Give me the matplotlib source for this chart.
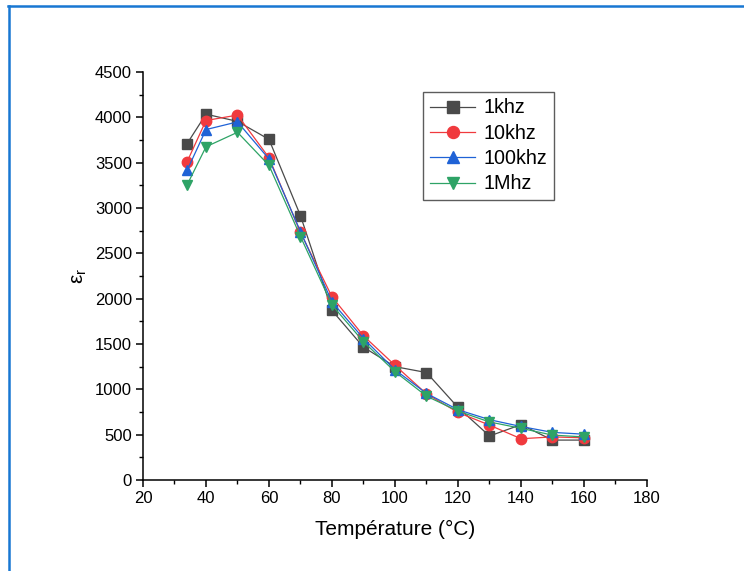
import matplotlib
matplotlib.use('Agg')
import matplotlib.pyplot as plt
from matplotlib.lines import Line2D
from matplotlib.ticker import MultipleLocator

plt.rcParams['font.family'] = ['Liberation Sans', 'DejaVu Sans']
plt.rcParams['mathtext.fontset'] = 'custom'
plt.rcParams['mathtext.rm'] = 'Liberation Sans'

# températures de mesure (°C)
temp = [34, 40, 50, 60, 70, 80, 90, 100, 110, 120, 130, 140, 150, 160]

# permittivité relative pour chaque fréquence
eps_1k = [3710, 4035, 3955, 3757, 2915, 1870, 1465, 1250, 1185, 800, 485, 610, 440, 440]
eps_10k = [3510, 3965, 4025, 3555, 2730, 2020, 1590, 1265, 950, 745, 605, 455, 475, 465]
eps_100k = [3415, 3865, 3950, 3540, 2740, 1965, 1560, 1215, 955, 775, 665, 590, 525, 505]
eps_1M = [3255, 3675, 3835, 3470, 2685, 1930, 1525, 1195, 925, 760, 640, 570, 495, 475]

labels = ['1khz', '10khz', '100khz', '1Mhz']
colors = ['#4a4a4a', '#f03a3e', '#1f62d6', '#2ea366']
markers = ['s', 'o', '^', 'v']

fig = plt.figure(figsize=(7.44, 5.71), dpi=100)
ax = fig.add_axes([0.1922, 0.1594, 0.6774, 0.7145])

for y, lab, c, m in zip([eps_1k, eps_10k, eps_100k, eps_1M], labels, colors, markers):
    ax.plot(temp, y, color=c, marker=m, markersize=7.5, linewidth=0.9, label=lab)

ax.set_xlim(20, 180)
ax.set_ylim(0, 4500)
ax.xaxis.set_major_locator(MultipleLocator(20))
ax.xaxis.set_minor_locator(MultipleLocator(10))
ax.yaxis.set_major_locator(MultipleLocator(500))
ax.yaxis.set_minor_locator(MultipleLocator(250))

for s in ['top', 'right']:
    ax.spines[s].set_visible(False)
for s in ['left', 'bottom']:
    ax.spines[s].set_linewidth(1.1)

ax.tick_params(which='major', direction='out', length=5, width=1.1, labelsize=12, pad=3)
ax.tick_params(which='minor', direction='out', length=3, width=1.0)

ax.set_xlabel('Température (°C)', fontsize=15, labelpad=10)
ax.set_ylabel(r'$\mathregular{\varepsilon_r}$', fontsize=15, labelpad=4)

leg = ax.legend(loc='upper left', bbox_to_anchor=(0.556, 0.952), fontsize=14.2,
                frameon=True, fancybox=False, edgecolor='#333333',
                handlelength=2.3, borderpad=0.35, labelspacing=0.32, handletextpad=0.4,
                borderaxespad=0, markerscale=1.15)
leg.get_frame().set_linewidth(1.0)

# cadre bleu en haut et à gauche
fig.add_artist(Line2D([8 / 744, 1], [1 - 6 / 571, 1 - 6 / 571], color='#1877d2', linewidth=1.8,
                      transform=fig.transFigure))
fig.add_artist(Line2D([9 / 744, 9 / 744], [0, 1 - 6 / 571], color='#1877d2', linewidth=1.8,
                      transform=fig.transFigure))

fig.savefig('out.png', dpi=100)
